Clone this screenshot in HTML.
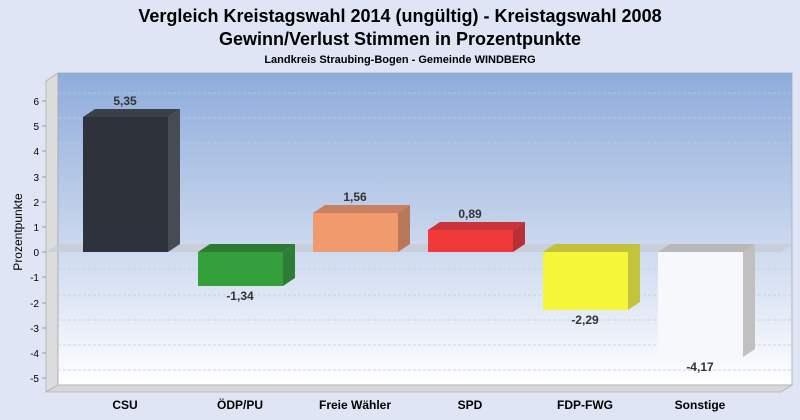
<!DOCTYPE html>
<html><head><meta charset="utf-8"><style>body{margin:0;background:#dfe5f5}svg{display:block}</style></head>
<body>
<svg width="800" height="420" xmlns="http://www.w3.org/2000/svg" font-family="Liberation Sans, sans-serif">
<defs>
<linearGradient id="bg" x1="0" y1="0" x2="0" y2="1"><stop offset="0" stop-color="#8eacdc"/><stop offset="0.55" stop-color="#cbd8ee"/><stop offset="1" stop-color="#ffffff"/></linearGradient>
</defs>
<rect width="800" height="420" fill="#dfe5f5"/>
<text x="400" y="22" text-anchor="middle" font-size="18" font-weight="bold" fill="#000">Vergleich Kreistagswahl 2014 (ungültig) - Kreistagswahl 2008</text>
<text x="400" y="45" text-anchor="middle" font-size="18" font-weight="bold" fill="#000">Gewinn/Verlust Stimmen in Prozentpunkte</text>
<text x="400" y="63" text-anchor="middle" font-size="11" font-weight="bold" fill="#000">Landkreis Straubing-Bogen - Gemeinde WINDBERG</text>
<polygon points="46,81 58,73 58,385 46,392" fill="#dcdcdc" stroke="#b0b0b0" stroke-width="0.8"/>
<rect x="58" y="73" width="734" height="312" fill="url(#bg)" stroke="#a0a8b8" stroke-width="0.8"/>
<polygon points="46,392 58,385 792,385 781,392" fill="#d8d8d8" stroke="#b0b0b0" stroke-width="0.8"/>
<g stroke="#c4ccd8" stroke-dasharray="3,2" stroke-width="0.7">
<line x1="58" y1="93" x2="792" y2="93"/><line x1="58" y1="118" x2="792" y2="118"/><line x1="58" y1="143" x2="792" y2="143"/><line x1="58" y1="169" x2="792" y2="169"/><line x1="58" y1="194" x2="792" y2="194"/><line x1="58" y1="219" x2="792" y2="219"/><line x1="58" y1="269" x2="792" y2="269"/><line x1="58" y1="295" x2="792" y2="295"/><line x1="58" y1="320" x2="792" y2="320"/><line x1="58" y1="345" x2="792" y2="345"/><line x1="58" y1="370" x2="792" y2="370"/>
</g>
<polygon points="46,252 58,244 792,244 781,252" fill="#c8ccd4" opacity="0.8"/>
<g font-size="10" fill="#000" text-anchor="end">
<text x="39" y="105">6</text><text x="39" y="130">5</text><text x="39" y="155">4</text><text x="39" y="181">3</text><text x="39" y="206">2</text><text x="39" y="231">1</text><text x="39" y="256">0</text><text x="39" y="281">-1</text><text x="39" y="307">-2</text><text x="39" y="332">-3</text><text x="39" y="357">-4</text><text x="39" y="382">-5</text>
</g>
<g stroke="#888" stroke-width="0.8">
<line x1="42" y1="101" x2="46" y2="101"/><line x1="42" y1="126" x2="46" y2="126"/><line x1="42" y1="151" x2="46" y2="151"/><line x1="42" y1="177" x2="46" y2="177"/><line x1="42" y1="202" x2="46" y2="202"/><line x1="42" y1="227" x2="46" y2="227"/><line x1="42" y1="252" x2="46" y2="252"/><line x1="42" y1="277" x2="46" y2="277"/><line x1="42" y1="303" x2="46" y2="303"/><line x1="42" y1="328" x2="46" y2="328"/><line x1="42" y1="353" x2="46" y2="353"/><line x1="42" y1="378" x2="46" y2="378"/>
</g>
<text transform="translate(22,232) rotate(-90)" text-anchor="middle" font-size="12" fill="#000">Prozentpunkte</text>
<polygon points="83,117 95,109 180,109 168,117" fill="#3a3f48"/><polygon points="168,117 180,109 180,244 168,252" fill="#464b54"/><rect x="83" y="117" width="85" height="135" fill="#2d323b"/>
<polygon points="198,252 210,244 295,244 283,252" fill="#2d7a32"/><polygon points="283,252 295,244 295,278 283,286" fill="#2e7d34"/><rect x="198" y="252" width="85" height="34" fill="#35a03b"/>
<polygon points="313,213 325,205 410,205 398,213" fill="#c88060"/><polygon points="398,213 410,205 410,244 398,252" fill="#b8785a"/><rect x="313" y="213" width="85" height="39" fill="#f09a6e"/>
<polygon points="428,230 440,222 525,222 513,230" fill="#c8343a"/><polygon points="513,230 525,222 525,244 513,252" fill="#b83036"/><rect x="428" y="230" width="85" height="22" fill="#f03a3a"/>
<polygon points="543,252 555,244 640,244 628,252" fill="#c2c23a"/><polygon points="628,252 640,244 640,302 628,310" fill="#c4c43c"/><rect x="543" y="252" width="85" height="58" fill="#f5f53a"/>
<polygon points="658,252 670,244 755,244 743,252" fill="#b8b8b8"/><polygon points="743,252 755,244 755,349 743,357" fill="#c0c0c0"/><rect x="658" y="252" width="85" height="105" fill="#f6f8fc"/>
<g font-size="12" font-weight="bold" fill="#333" text-anchor="middle">
<text x="125" y="105">5,35</text><text x="240" y="300">-1,34</text><text x="355" y="201">1,56</text><text x="470" y="218">0,89</text><text x="585" y="324">-2,29</text><text x="700" y="371">-4,17</text>
</g>
<g font-size="12" font-weight="bold" fill="#000" text-anchor="middle">
<text x="125" y="409">CSU</text><text x="240" y="409">ÖDP/PU</text><text x="355" y="409">Freie Wähler</text><text x="470" y="409">SPD</text><text x="585" y="409">FDP-FWG</text><text x="700" y="409">Sonstige</text>
</g>
</svg>
</body></html>
